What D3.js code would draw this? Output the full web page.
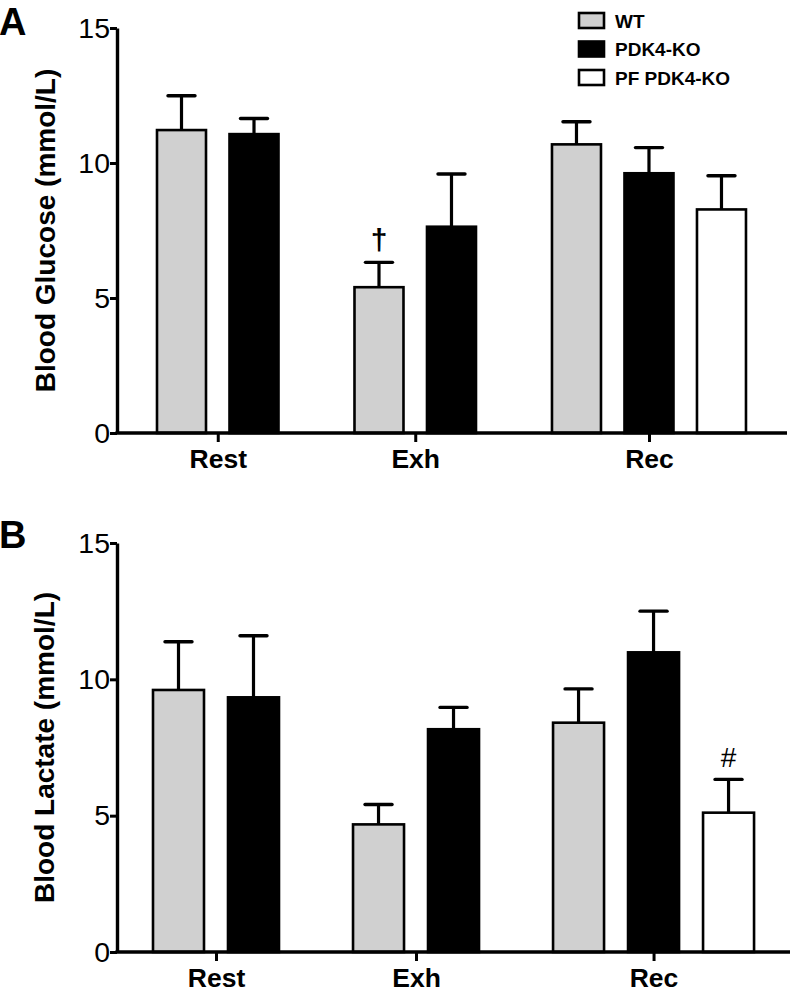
<!DOCTYPE html>
<html><head><meta charset="utf-8">
<script src="https://cdn.jsdelivr.net/npm/d3@7"></script>
<style>
html,body{margin:0;padding:0;background:#fff;}
svg text{font-family:"Liberation Sans", Arial, sans-serif;}
</style>
</head><body>
<svg id="chart" width="793" height="998"></svg>
<script>
// ---------- data ----------
const categories = ["Rest", "Exh", "Rec"];
const seriesNames = ["WT", "PDK4-KO", "PF PDK4-KO"];
const seriesFills = ["#d0d0d0", "#000000", "#ffffff"];
const yTicks = [0, 5, 10, 15];

const glucoseWT     = [11.22, 5.40, 10.69];
const glucoseWTErr  = [1.27, 0.92, 0.84];
const glucoseKO     = [11.07, 7.64, 9.62];
const glucoseKOErr  = [0.58, 1.95, 0.95];
const glucosePF     = [null, null, 8.28];
const glucosePFErr  = [null, null, 1.25];

const lactateWT     = [9.61, 4.68, 8.41];
const lactateWTErr  = [1.77, 0.73, 1.24];
const lactateKO     = [9.34, 8.17, 10.99];
const lactateKOErr  = [2.26, 0.80, 1.51];
const lactatePF     = [null, null, 5.11];
const lactatePFErr  = [null, null, 1.22];

const glucoseMarks = [{cat: "Exh", series: 0, text: "\u2020"}];
const lactateMarks = [{cat: "Rec", series: 2, text: "#"}];

// ---------- drawing ----------
const svg = d3.select("#chart");

function drawPanel(cfg) {
  const g = svg.append("g");
  const y = d3.scaleLinear().domain([0, 15]).range([cfg.y0, cfg.y15]);

  const bars = [];
  let slot = 0;
  categories.forEach((c, ci) => {
    const start = slot;
    let n = 0;
    cfg.means.forEach((arr, si) => {
      if (arr[ci] != null) {
        bars.push({cat: c, series: si, slot: start + n, v: arr[ci], e: cfg.errs[si][ci]});
        n++;
      }
    });
    slot = start + n + cfg.gap;
  });
  const xs = d3.scaleLinear().domain([0, 1]).range([cfg.left0, cfg.left0 + cfg.pitch]);
  const bw = cfg.barW;

  const centers = categories.map(c => {
    const b = bars.filter(d => d.cat === c);
    return (xs(b[0].slot) + xs(b[b.length - 1].slot) + bw) / 2;
  });
  const xc = d3.scaleOrdinal().domain(categories).range(centers);

  g.selectAll("rect.bar").data(bars).enter().append("rect")
    .attr("x", d => xs(d.slot))
    .attr("y", d => y(d.v))
    .attr("width", bw)
    .attr("height", d => y(0) - y(d.v))
    .attr("fill", d => seriesFills[d.series])
    .attr("stroke", "#000")
    .attr("stroke-width", 2.6);

  const eb = g.selectAll("g.err").data(bars).enter().append("g");
  eb.append("line")
    .attr("x1", d => xs(d.slot) + bw / 2).attr("x2", d => xs(d.slot) + bw / 2)
    .attr("y1", d => y(d.v)).attr("y2", d => y(d.v + d.e))
    .attr("stroke", "#000").attr("stroke-width", 3.2);
  eb.append("line")
    .attr("x1", d => xs(d.slot) + bw / 2 - 13.5).attr("x2", d => xs(d.slot) + bw / 2 + 13.5)
    .attr("y1", d => y(d.v + d.e)).attr("y2", d => y(d.v + d.e))
    .attr("stroke", "#000").attr("stroke-width", 3.4).attr("stroke-linecap", "round");

  cfg.marks.forEach(m => {
    const b = bars.find(d => d.cat === m.cat && d.series === m.series);
    g.append("text")
      .attr("x", xs(b.slot) + bw / 2)
      .attr("y", y(b.v + b.e) - 12)
      .attr("text-anchor", "middle")
      .attr("font-size", m.text === "#" ? 28 : 30)
      .attr("font-weight", m.text === "#" ? "normal" : "bold")
      .text(m.text);
  });

  g.append("line")
    .attr("x1", cfg.axisX - 1.5).attr("x2", cfg.xEnd)
    .attr("y1", y(0)).attr("y2", y(0))
    .attr("stroke", "#000").attr("stroke-width", 3.4);

  const xAxis = g.append("g").attr("transform", `translate(0,${y(0)})`)
    .call(d3.axisBottom(xc).tickSize(9).tickPadding(7));
  xAxis.select(".domain").remove();
  xAxis.selectAll(".tick line").attr("stroke", "#000").attr("stroke-width", 3);
  xAxis.selectAll(".tick text")
    .attr("font-size", 26.5).attr("font-weight", "bold").attr("fill", "#000")
    .attr("font-family", "Liberation Sans, Arial, sans-serif");

  const yAxis = g.append("g").attr("transform", `translate(${cfg.axisX},0)`)
    .call(d3.axisLeft(y).tickValues(yTicks).tickSize(7).tickSizeOuter(0).tickPadding(0));
  yAxis.select(".domain").attr("stroke", "#000").attr("stroke-width", 3.4);
  yAxis.selectAll(".tick line").attr("stroke", "#000").attr("stroke-width", 3);
  yAxis.selectAll(".tick text")
    .attr("font-size", 28.5).attr("fill", "#000")
    .attr("font-family", "Liberation Sans, Arial, sans-serif");

  g.append("text")
    .attr("transform", `translate(${cfg.titleX},${(cfg.y0 + cfg.y15) / 2 + cfg.titleDy}) rotate(-90)`)
    .attr("text-anchor", "middle")
    .attr("font-size", 28).attr("font-weight", "bold")
    .text(cfg.title);

  g.append("text")
    .attr("x", -1).attr("y", cfg.letterY)
    .attr("font-size", 38).attr("font-weight", "bold")
    .text(cfg.letter);
}

drawPanel({
  means: [glucoseWT, glucoseKO, glucosePF],
  errs: [glucoseWTErr, glucoseKOErr, glucosePFErr],
  marks: glucoseMarks,
  y0: 433, y15: 28, axisX: 117, xEnd: 787,
  left0: 157, pitch: 72.5, gap: 0.724, barW: 49,
  title: "Blood Glucose (mmol/L)", titleX: 55, titleDy: 0,
  letter: "A", letterY: 35
});

drawPanel({
  means: [lactateWT, lactateKO, lactatePF],
  errs: [lactateWTErr, lactateKOErr, lactatePFErr],
  marks: lactateMarks,
  y0: 952, y15: 543, axisX: 117, xEnd: 790,
  left0: 153, pitch: 75, gap: 0.667, barW: 51,
  title: "Blood Lactate (mmol/L)", titleX: 54, titleDy: 0,
  letter: "B", letterY: 548
});

const legend = svg.append("g");
seriesNames.forEach((s, i) => {
  legend.append("rect")
    .attr("x", 579).attr("y", 13 + i * 28.5)
    .attr("width", 25).attr("height", 15)
    .attr("fill", seriesFills[i]).attr("stroke", "#000").attr("stroke-width", 2.6);
  legend.append("text")
    .attr("x", 615).attr("y", 27.5 + i * 28.5)
    .attr("font-size", 19).attr("font-weight", "bold")
    .text(s);
});
</script>
</body></html>
